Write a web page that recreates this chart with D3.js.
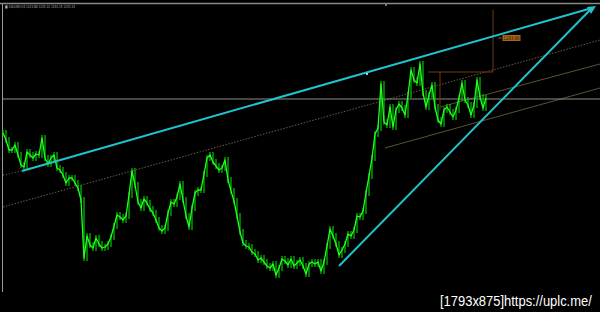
<!DOCTYPE html>
<html><head><meta charset="utf-8">
<script src="https://cdn.jsdelivr.net/npm/d3@7"></script>
<style>html,body{margin:0;padding:0;background:#000;}svg{display:block;}</style>
</head><body>
<svg id="c" width="600" height="312"></svg>
<script>
// ---- data ----
const symbolHeader = "\u25A0 XAUUSD,H4  1243.88 1244.10 1243.15 1243.33";
const watermark = "[1793x875]https://uplc.me/";
const closes = [
1235.5,1232,1227,1227,1229.5,1224.5,1219.5,1218.5,1226,1224.5,1223,1225,1224.5,1233,1223,1220,1223,1224.5,1218,1217,
1214.5,1210.5,1213,1213,1210.5,1208,1202,1173,1184,1179.5,1178,1183,1180,1178,1178.5,1180,1183.5,1189,1194.5,1193.5,
1192,1194,1204.5,1216.5,1209.5,1201,1198,1202.5,1200.5,1197.5,1195.5,1192,1188,1186.5,1188,1195.5,1201,1200,1203.5,1210,
1202,1194,1188.5,1198,1205.5,1207,1207,1215,1223,1224.5,1221,1219,1217,1218,1222,1212,1206.5,1201.5,1194,1186,
1180.5,1179,1178.5,1176,1175,1172,1173,1171,1169,1168,1170,1164.5,1168,1172.5,1171.5,1169.5,1172.5,1169,1170.5,1172,
1169,1165,1170,1171,1170,1171,1166.5,1171,1179,1187.5,1184,1180,1174.5,1177,1180,1185,1184,1187,1194,1193.5,
1196.5,1205.5,1214,1223,1235,1238,1260,1241,1239.5,1248.5,1238.5,1247,1250,1248,1244.5,1254.5,1267,1262,1260.5,1270,
1255.5,1248.5,1254.5,1259.5,1248.5,1242,1240,1247,1248.5,1246,1243.5,1247,1253,1260.5,1252,1249.5,1244.5,1249.5,1262,1253.5,
1248,1253
];
const currentPrice = 1252.5;
const trendUpper = [[6.33, 1216.5], [196.33, 1298]];
const trendUpperExt = [[0, 1214.4], [6.33, 1216.5]];
const trendLower = [[112, 1169], [196.33, 1298]];
const channelA = [[0, 1198.5], [199, 1282]];
const channelD = [[127.33, 1228], [199, 1258]];
const channelE = [[145.67, 1248.5], [199, 1270]];
const boxLines = [
  [[163.33, 1297], [163.33, 1266]],
  [[141.67, 1266], [163.33, 1266]],
  [[145.67, 1266], [145.67, 1247]]
];
const priceLabel = {i: 167.5, p: 1283, text: "1283.98"};
const midMarker = [121.33, 1265];

// ---- scales ----
const svg = d3.select("#c");
const x = d3.scaleLinear().domain([0, 199]).range([3, 600]);
const y = d3.scaleLinear().domain([1300, 1156]).range([4, 292]);
const line = d3.line().x(d => x(d[0])).y(d => y(d[1]));

svg.append("rect").attr("width", 600).attr("height", 312).attr("fill", "#000");

// frame
svg.append("line").attr("x1", 0).attr("x2", 600).attr("y1", 3.5).attr("y2", 3.5)
  .attr("stroke", "#8a8a8a").attr("stroke-width", 1.5);
svg.append("line").attr("x1", 2.5).attr("x2", 2.5).attr("y1", 4).attr("y2", 292)
  .attr("stroke", "#9a9a9a").attr("stroke-width", 1);
svg.append("rect").attr("x", 385).attr("y", 4).attr("width", 2).attr("height", 2).attr("fill", "#777");

// header
svg.append("text").attr("x", 5).attr("y", 7.5).text(symbolHeader)
  .attr("font-family", "DejaVu Sans").attr("font-size", 4).attr("fill", "#b0b0b0")
  .attr("textLength", 70).attr("lengthAdjust", "spacingAndGlyphs");

// channel lines
svg.append("path").attr("d", line(channelA)).attr("fill", "none")
  .attr("stroke", "#6e5e3e").attr("stroke-width", 1).attr("stroke-dasharray", "1.5,1.5");
svg.append("path").attr("d", line(channelD)).attr("fill", "none")
  .attr("stroke", "#5e5034").attr("stroke-width", 1);
svg.append("path").attr("d", line(channelE)).attr("fill", "none")
  .attr("stroke", "#5e5034").attr("stroke-width", 1);
svg.append("path").attr("d", line(trendUpperExt)).attr("fill", "none")
  .attr("stroke", "#6e6e6e").attr("stroke-width", 1).attr("stroke-dasharray", "1,2");

// current price line
svg.append("line").attr("x1", 3).attr("x2", 600).attr("y1", y(currentPrice)).attr("y2", y(currentPrice))
  .attr("stroke", "#8c8c8c").attr("stroke-width", 1);

// orange box lines
boxLines.forEach(seg => {
  svg.append("path").attr("d", line(seg)).attr("fill", "none")
    .attr("stroke", "#6e3a10").attr("stroke-width", 1);
});

// price bars
const g = svg.append("g");
closes.forEach((c, i) => {
  const prev = i > 0 ? closes[i - 1] : c;
  const hi = Math.max(prev, c), lo = Math.min(prev, c);
  g.append("line").attr("x1", x(i)).attr("x2", x(i))
    .attr("y1", y(hi) - 3).attr("y2", y(lo) + 3)
    .attr("stroke", "#00c800").attr("stroke-width", 1.2);
});
g.append("path").datum(closes.map((c, i) => [i, c])).attr("d", line)
  .attr("fill", "none").attr("stroke", "#22ff22").attr("stroke-width", 1.3)
  .attr("stroke-linejoin", "round");

// cyan trend lines
[trendUpper, trendLower].forEach(t => {
  svg.append("path").attr("d", line(t)).attr("fill", "none")
    .attr("stroke", "#20c4cc").attr("stroke-width", 2);
});
// arrow tip
const tip = trendUpper[1];
const tx = x(tip[0]), ty = y(tip[1]);
svg.append("path").attr("d", `M${tx + 4},${ty - 2} L${tx - 5},${ty - 1} L${tx - 1},${ty + 6} Z`)
  .attr("fill", "#20c4cc");
svg.append("circle").attr("cx", x(midMarker[0])).attr("cy", y(midMarker[1])).attr("r", 1)
  .attr("fill", "#ffffff");

// price label
const lx = x(priceLabel.i), ly = y(priceLabel.p);
svg.append("line").attr("x1", lx - 7).attr("x2", lx - 4).attr("y1", ly).attr("y2", ly)
  .attr("stroke", "#a06018").attr("stroke-width", 1);
svg.append("rect").attr("x", lx - 3).attr("y", ly - 3).attr("width", 18).attr("height", 6)
  .attr("fill", "#a8661c");
svg.append("text").attr("x", lx + 6).attr("y", ly + 1.8).attr("text-anchor", "middle")
  .text(priceLabel.text).attr("font-family", "DejaVu Sans").attr("font-size", 5)
  .attr("fill", "#2a1200").attr("textLength", 16).attr("lengthAdjust", "spacingAndGlyphs");

// watermark: fit its natural width to ~152px, then stretch vertically
const wm = svg.append("text").attr("x", 0).attr("y", 0).text(watermark)
  .attr("font-family", "'Liberation Sans'").attr("font-size", 12).attr("fill", "#ffffff");
const natural = wm.node().getComputedTextLength();
const fs = 12 * 152 / natural;
wm.attr("font-size", fs)
  .attr("transform", `translate(440,306) scale(1,${(14 / fs).toFixed(3)})`);
</script>
</body></html>
